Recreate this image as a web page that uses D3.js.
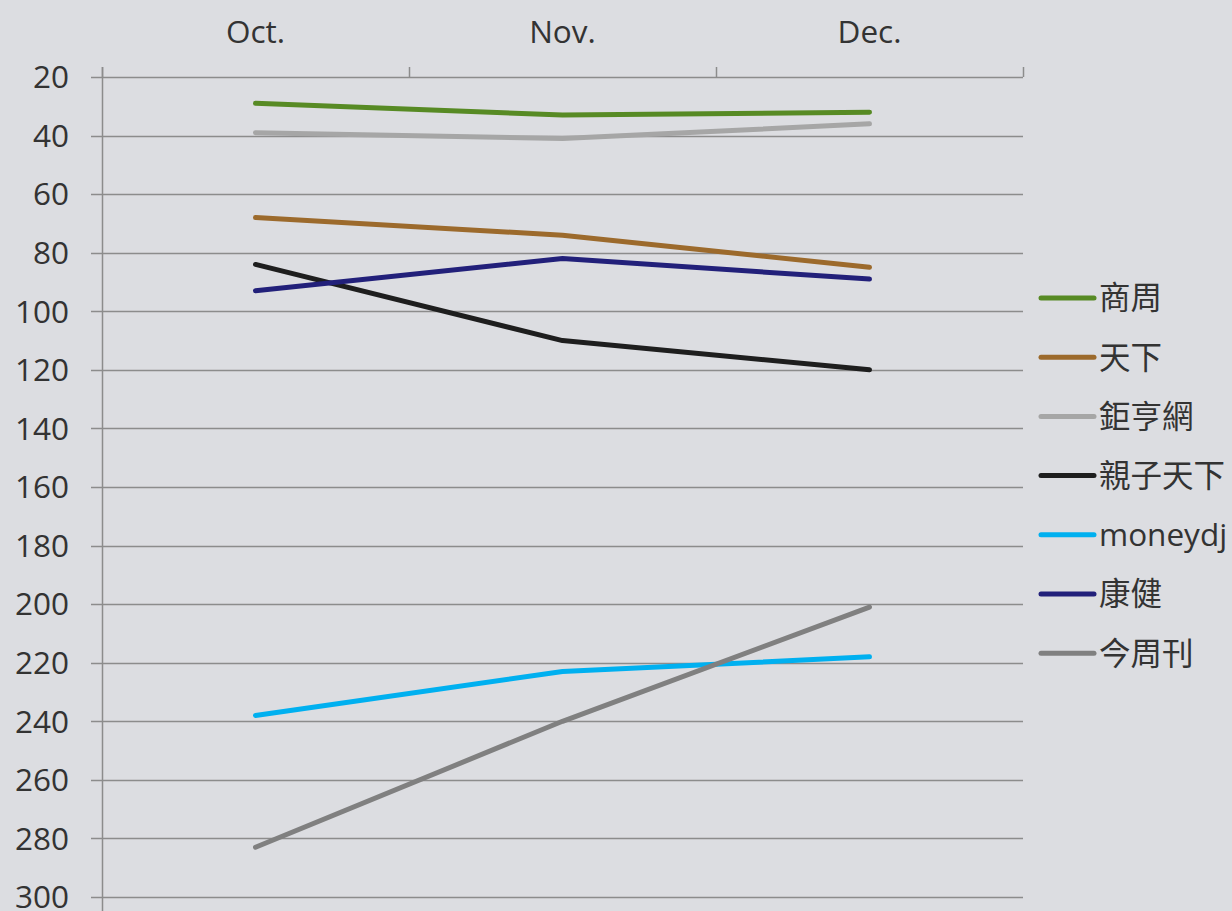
<!DOCTYPE html>
<html><head><meta charset="utf-8">
<script src="https://cdn.jsdelivr.net/npm/d3@7"></script>
<style>
html,body{margin:0;padding:0;background:#dcdde1;}
svg{display:block;}
text{font-family:"Open Sans","Noto Sans CJK TC","Noto Sans",sans-serif;}
</style></head>
<body>
<svg id="c" width="1232" height="911"></svg>
<script>
const months = ["Oct.", "Nov.", "Dec."];
const seriesNames = ["商周", "天下", "鉅亨網", "親子天下", "moneydj", "康健", "今周刊"];
const shangzhou = [29, 33, 32];
const tianxia = [68, 74, 85];
const juheng = [39, 41, 36];
const qinzi = [84, 110, 120];
const moneydj = [238, 223, 218];
const kangjian = [93, 82, 89];
const jinzhou = [283, 240, 201];
const yTicks = [20, 40, 60, 80, 100, 120, 140, 160, 180, 200, 220, 240, 260, 280, 300];
const colors = ["#578a24", "#9c6a2c", "#a6a6a6", "#1e1e1e", "#00b0f0", "#22207a", "#808080"];
const values = [shangzhou, tianxia, juheng, qinzi, moneydj, kangjian, jinzhou];

(function(){
const svg = d3.select("#c");
const mL = 102, mR = 1023, mT = 77, mB = 897;
const x = d3.scaleBand().domain(months).range([mL, mR]);
const y = d3.scaleLinear().domain([20, 300]).range([mT, mB]);

// gridlines
svg.append("g").selectAll("line").data(yTicks).join("line")
  .attr("x1", 91).attr("x2", mR)
  .attr("y1", d => Math.round(y(d)) + 0.5).attr("y2", d => Math.round(y(d)) + 0.5)
  .attr("stroke", "#8c8c8c").attr("stroke-width", 1.5);

// y axis line
svg.append("line").attr("x1", mL + 0.5).attr("x2", mL + 0.5)
  .attr("y1", 67).attr("y2", 911).attr("stroke", "#8c8c8c").attr("stroke-width", 1.5);

// top axis ticks
const xTickPos = [mL, ...months.map(m => x(m) + x.bandwidth())];
svg.append("g").selectAll("line").data(xTickPos).join("line")
  .attr("x1", d => Math.round(d) + 0.5).attr("x2", d => Math.round(d) + 0.5)
  .attr("y1", 67).attr("y2", mT).attr("stroke", "#8c8c8c").attr("stroke-width", 1.5);

// y labels
svg.append("g").selectAll("text").data(yTicks).join("text")
  .attr("x", 69).attr("y", d => y(d)).attr("dy", "0.36em")
  .attr("text-anchor", "end").attr("font-size", 31.5).attr("fill", "#333")
  .text(d => d);

// x labels
svg.append("g").selectAll("text").data(months).join("text")
  .attr("x", d => x(d) + x.bandwidth() / 2).attr("y", 32).attr("dy", "0.36em")
  .attr("text-anchor", "middle").attr("font-size", 31.5).attr("fill", "#333")
  .text(d => d);

// lines
const line = d3.line().x((d, i) => x(months[i]) + x.bandwidth() / 2).y(d => y(d));
svg.append("g").selectAll("path").data(values).join("path")
  .attr("d", d => line(d)).attr("fill", "none")
  .attr("stroke", (d, i) => colors[i]).attr("stroke-width", 5)
  .attr("stroke-linecap", "round").attr("stroke-linejoin", "round");

// legend
const lg = svg.append("g").selectAll("g").data(seriesNames).join("g")
  .attr("transform", (d, i) => `translate(0,${298 + i * 59.2})`);
lg.append("line").attr("x1", 1041).attr("x2", 1094).attr("y1", 0).attr("y2", 0)
  .attr("stroke", (d, i) => colors[i]).attr("stroke-width", 5).attr("stroke-linecap", "round");
lg.append("text").attr("x", 1099).attr("y", 0).attr("dy", "0.36em")
  .attr("font-size", 31.5).attr("fill", "#333").text(d => d);
})();
</script>
</body></html>
